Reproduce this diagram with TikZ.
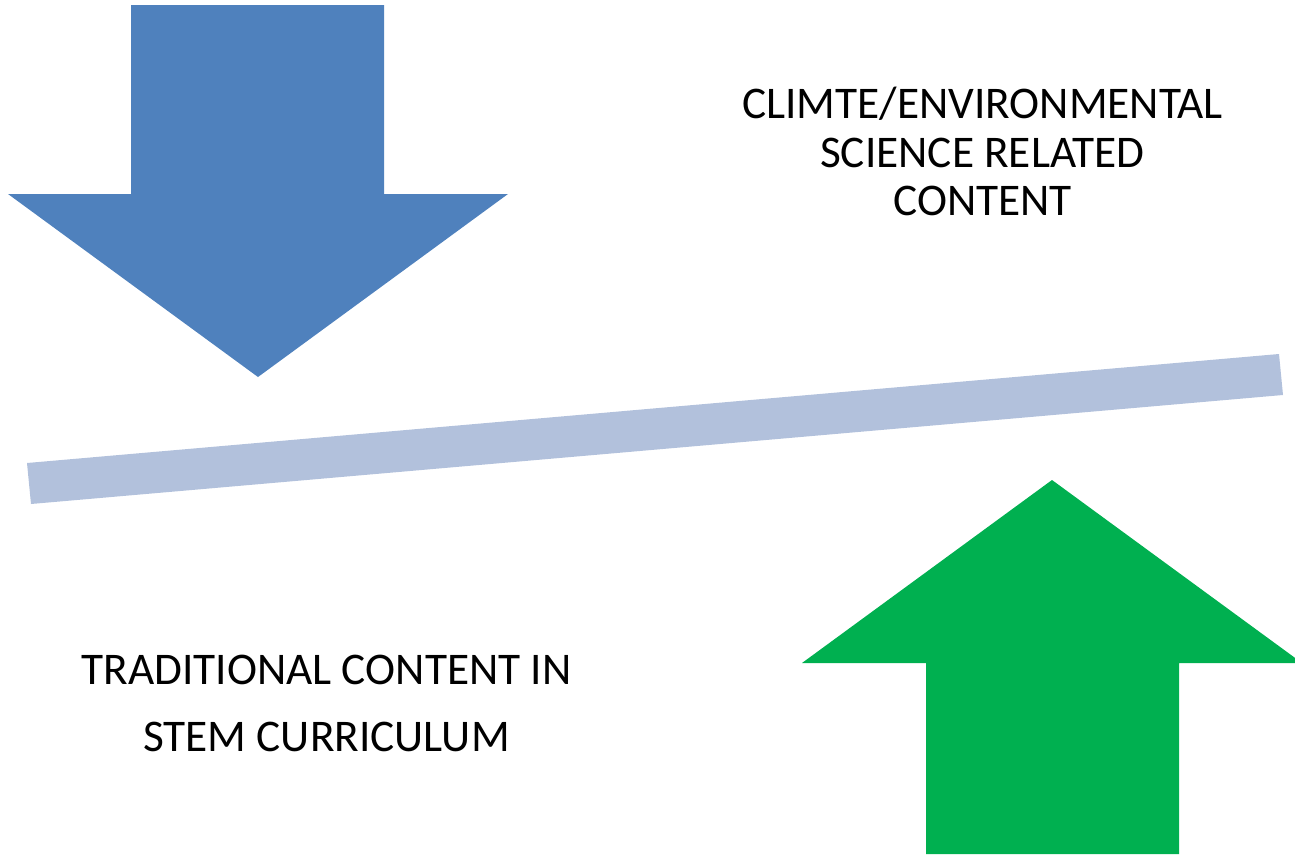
\documentclass[tikz,border=0pt]{standalone}
\usepackage{fontspec}
\setmainfont{Carlito}
\definecolor{arrowblue}{HTML}{4F81BD}
\definecolor{barblue}{HTML}{B2C1DC}
\definecolor{arrowgreen}{HTML}{00B050}
\begin{document}
\begin{tikzpicture}[x=1pt,y=-1pt,
  lbl/.style={anchor=base,inner sep=0pt,font=\fontsize{45.3}{48}\selectfont,text=black}]
\useasboundingbox (0,0) rectangle (1295,854);
% blue down arrow
\fill[arrowblue] (131,5) -- (384,5) -- (384,194) -- (508,194) -- (258,377) -- (8,194) -- (131,194) -- cycle;
% tilted bar
\fill[barblue] (27,463) -- (1279,354) -- (1283,395) -- (31,504) -- cycle;
% green up arrow
\fill[arrowgreen] (926,854) -- (926,663) -- (802,663) -- (1052,480) -- (1302,663) -- (1179,663) -- (1179,854) -- cycle;
% texts
\node[lbl] (c1) at (982.5,118) {CLIMTE/ENVIRONMENTAL};
\node[lbl] (c2) at (982.5,167) {SCIENCE RELATED};
\node[lbl] (c3) at (982.5,215) {CONTENT};
\node[lbl] (t1) at (326.5,684) {TRADITIONAL CONTENT IN};
\node[lbl] (t2) at (326.5,751) {STEM CURRICULUM};
\end{tikzpicture}
\end{document}
